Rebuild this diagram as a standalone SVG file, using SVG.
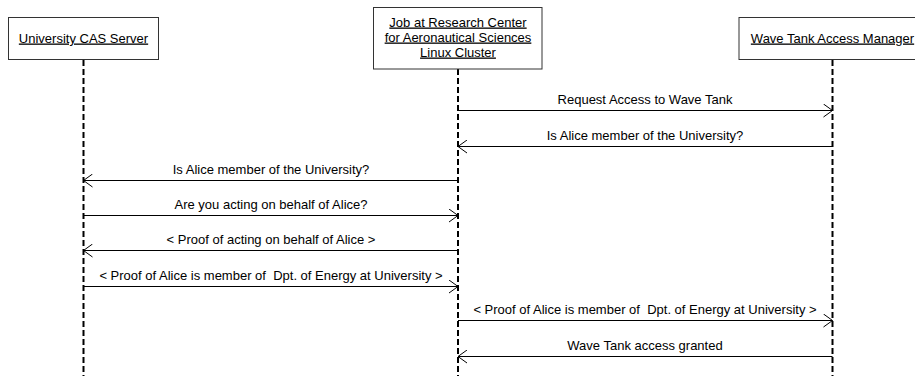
<svg xmlns="http://www.w3.org/2000/svg" width="915" height="376" viewBox="0 0 915 376">
<style>
.box{fill:#fff;stroke:#333;stroke-width:1}
.life{stroke:#000;stroke-width:2;stroke-dasharray:6,3;fill:none}
.hdr{font-family:"Liberation Sans",Arial,sans-serif;font-size:13px;fill:#000;text-anchor:middle;text-decoration:underline}
.msg{font-family:"Liberation Sans",Arial,sans-serif;font-size:13px;fill:#000;text-anchor:middle}
.ln{stroke:#000;stroke-width:1;fill:none}
</style>
<defs>
<marker id="ah" viewBox="-10 -7 11 14" refX="0" refY="0" markerWidth="11" markerHeight="14" markerUnits="userSpaceOnUse" orient="auto">
<path d="M-9,-6.5 L0,0 L-9,6.5" fill="none" stroke="#000" stroke-width="1"/>
</marker>
</defs>
<rect width="915" height="376" fill="#fff"/>
<g id="lifelines">
<line class="life" x1="83.5" y1="60" x2="83.5" y2="376"/>
<line class="life" x1="458" y1="69" x2="458" y2="376"/>
<line class="life" x1="832.5" y1="60" x2="832.5" y2="376"/>
</g>
<g id="node-cas">
<rect class="box" x="8.5" y="17.5" width="150" height="42"/>
<text class="hdr" x="83.5" y="42.5">University CAS Server</text>
</g>
<g id="node-job">
<rect class="box" x="373.5" y="7.5" width="168.5" height="61.5"/>
<text class="hdr" x="458" y="26.5">Job at Research Center</text>
<text class="hdr" x="458" y="41.5">for Aeronautical Sciences</text>
<text class="hdr" x="458" y="56.5">Linux Cluster</text>
</g>
<g id="node-wave">
<rect class="box" x="739" y="17.5" width="187" height="42"/>
<text class="hdr" x="832.5" y="42.5">Wave Tank Access Manager</text>
</g>
<g id="connectors">
<line class="ln" x1="458" y1="110.5" x2="832.5" y2="110.5" marker-end="url(#ah)"/>
<text class="msg" x="645" y="103.5">Request Access to Wave Tank</text>
<line class="ln" x1="832.5" y1="146.5" x2="458" y2="146.5" marker-end="url(#ah)"/>
<text class="msg" x="645" y="139.5">Is Alice member of the University?</text>
<line class="ln" x1="458" y1="180.5" x2="83.5" y2="180.5" marker-end="url(#ah)"/>
<text class="msg" x="271" y="173.5">Is Alice member of the University?</text>
<line class="ln" x1="83.5" y1="215.5" x2="458" y2="215.5" marker-end="url(#ah)"/>
<text class="msg" x="271" y="208.5">Are you acting on behalf of Alice?</text>
<line class="ln" x1="458" y1="250.5" x2="83.5" y2="250.5" marker-end="url(#ah)"/>
<text class="msg" x="271" y="243.5">&lt; Proof of acting on behalf of Alice &gt;</text>
<line class="ln" x1="83.5" y1="286.5" x2="458" y2="286.5" marker-end="url(#ah)"/>
<text class="msg" x="271" y="279.5" xml:space="preserve">&lt; Proof of Alice is member of  Dpt. of Energy at University &gt;</text>
<line class="ln" x1="458" y1="320.5" x2="832.5" y2="320.5" marker-end="url(#ah)"/>
<text class="msg" x="645" y="313.5" xml:space="preserve">&lt; Proof of Alice is member of  Dpt. of Energy at University &gt;</text>
<line class="ln" x1="832.5" y1="356.5" x2="458" y2="356.5" marker-end="url(#ah)"/>
<text class="msg" x="645" y="349.5">Wave Tank access granted</text>
</g>
</svg>
